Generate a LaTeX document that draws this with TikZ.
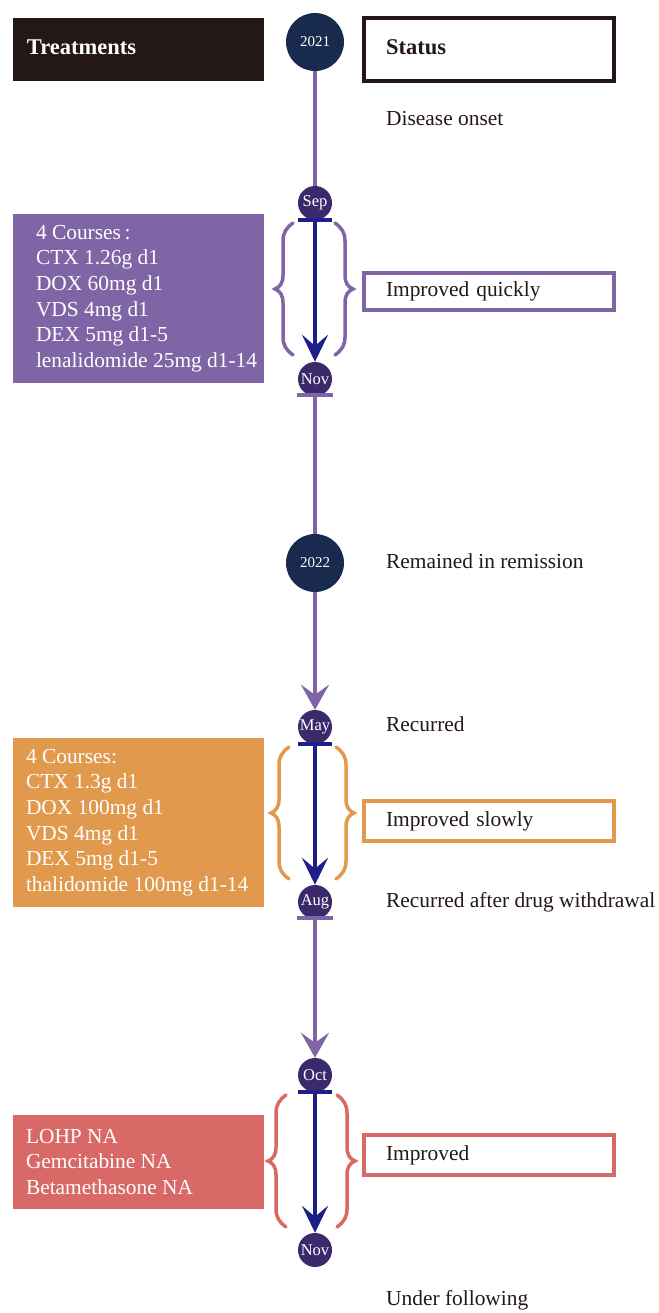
\documentclass[tikz,border=0pt]{standalone}
\usepackage{fontspec}
\setmainfont{Liberation Serif}
\usepackage{xcolor}
\usepackage{tikz}
\usetikzlibrary{arrows.meta,positioning,calc}

\definecolor{headdark}{HTML}{231815}
\definecolor{yearblue}{HTML}{182A4E}
\definecolor{monthpurple}{HTML}{3A2A6C}
\definecolor{arrownavy}{HTML}{1D2088}
\definecolor{tlpurple}{HTML}{7F65A5}
\definecolor{tlorange}{HTML}{E0994D}
\definecolor{tlred}{HTML}{D96966}

% braces on both sides of a course: colour, top, bottom, left x, right x
\newcommand{\sidebraces}[5]{%
  \draw[#1, line width=3.5pt, line cap=round]
    ({#4+10},#2) .. controls ({#4+3},{#2+5}) and (#4,{#2+10}) .. (#4,{#2+18})
    -- (#4,{(#2+#3)/2-14}) .. controls (#4,{(#2+#3)/2-6}) and ({#4-3},{(#2+#3)/2-2}) .. ({#4-8},{(#2+#3)/2})
    .. controls ({#4-3},{(#2+#3)/2+2}) and (#4,{(#2+#3)/2+6}) .. (#4,{(#2+#3)/2+14})
    -- (#4,{#3-18}) .. controls (#4,{#3-10}) and ({#4+3},{#3-5}) .. ({#4+10},#3);
  \draw[#1, line width=3.5pt, line cap=round]
    ({#5-10},#2) .. controls ({#5-3},{#2+5}) and (#5,{#2+10}) .. (#5,{#2+18})
    -- (#5,{(#2+#3)/2-14}) .. controls (#5,{(#2+#3)/2-6}) and ({#5+3},{(#2+#3)/2-2}) .. ({#5+8},{(#2+#3)/2})
    .. controls ({#5+3},{(#2+#3)/2+2}) and (#5,{(#2+#3)/2+6}) .. (#5,{(#2+#3)/2+14})
    -- (#5,{#3-18}) .. controls (#5,{#3-10}) and ({#5-3},{#3-5}) .. ({#5-10},#3);
}

\begin{document}
\begin{tikzpicture}[x=1pt, y=-1pt,
    yearnode/.style={circle, fill=yearblue, text=white, minimum size=58pt, inner sep=0pt, font=\fontsize{15}{15}\selectfont},
    monthnode/.style={circle, fill=monthpurple, text=white, minimum size=34pt, inner sep=0pt, font=\fontsize{16.5}{16.5}\selectfont},
    headbox/.style={rectangle, minimum height=63pt, align=left, text height=15pt, text depth=4pt, font=\fontsize{22.5}{27}\selectfont\bfseries},
    statbox/.style={draw=#1, line width=4pt, fill=white, minimum width=250pt, text width=206pt, inner xsep=22pt, align=left, text height=15pt, text depth=4pt, text=headdark, font=\fontsize{21.4}{25.6}\selectfont},
    txbox/.style={fill=#1, minimum width=251pt, inner sep=0pt},
    txlines/.style={anchor=west, inner sep=0pt, align=left, text=white, font=\fontsize{21.4}{25.6}\selectfont},
    status/.style={anchor=base west, inner sep=0pt, text=headdark, font=\fontsize{21.4}{25.6}\selectfont},
    tlline/.style={draw=tlpurple, line width=4pt},
    tlarrow/.style={tlline, -{Stealth[length=25pt, width=28pt, inset=10pt]}},
    navyarrow/.style={draw=arrownavy, line width=4pt, -{Stealth[length=27pt, width=26pt, inset=11pt]}},
  ]
  \useasboundingbox (0,0) rectangle (658,1313);

  % Headers
  \node[headbox, fill=headdark, text=white, minimum width=251pt, text width=223pt, inner xsep=14pt] (treat) at (138.5,49.5) {Treatments};
  \node[headbox, draw=headdark, line width=4pt, text=headdark, minimum width=250pt, text width=206pt, inner xsep=22pt, minimum height=62.5pt] (status) at (489,49.3) {Status};

  % Timeline points
  \node[yearnode] (y2021) at (315,42) {2021};
  \node[monthnode] (sep) at (315,203) {Sep};
  \node[monthnode] (nov1) at (315,379) {Nov};
  \node[yearnode] (y2022) at (315,563) {2022};
  \node[monthnode] (may) at (315,727) {May};
  \node[monthnode] (aug) at (315,902) {Aug};
  \node[monthnode] (oct) at (315,1075) {Oct};
  \node[monthnode] (nov2) at (315,1250) {Nov};

  % Timeline connectors
  \draw[tlline] (y2021.south) -- (sep.north);
  \draw[tlline] (nov1.south) -- (y2022.north);
  \draw[tlarrow] (y2022.south) -- (may.north);
  \draw[tlarrow] (aug.south) -- (oct.north);
  \draw[navyarrow] (sep.south) -- (nov1.north);
  \draw[navyarrow] (may.south) -- (aug.north);
  \draw[navyarrow] (oct.south) -- (nov2.north);

  % Start and end bars
  \draw[arrownavy, line width=4pt] ($(sep.south)+(-17,0)$) -- ($(sep.south)+(17,0)$);
  \draw[arrownavy, line width=4pt] ($(may.south)+(-17,0)$) -- ($(may.south)+(17,0)$);
  \draw[arrownavy, line width=4pt] ($(oct.south)+(-17,0)$) -- ($(oct.south)+(17,0)$);
  \draw[tlpurple, line width=4pt] ($(nov1.south)+(-18,-1)$) -- ($(nov1.south)+(18,-1)$);
  \draw[tlpurple, line width=4pt] ($(aug.south)+(-18,-1)$) -- ($(aug.south)+(18,-1)$);

  % Braces
  \sidebraces{tlpurple}{223}{355}{283}{345}
  \sidebraces{tlorange}{747}{879}{279}{346}
  \sidebraces{tlred}{1095}{1227}{276}{347}

  % Treatments
  \node[txbox=tlpurple, minimum height=169pt] (tx1) at (138.5,298.5) {};
  \node[txlines] (tx1t) at ($(tx1.west)+(23,0)$) {4 Courses\,:\\CTX 1.26g d1\\DOX 60mg d1\\VDS 4mg d1\\DEX 5mg d1-5\\lenalidomide 25mg d1-14};
  \node[txbox=tlorange, minimum height=169pt] (tx2) at (138.5,822.5) {};
  \node[txlines] (tx2t) at ($(tx2.west)+(13,0)$) {4 Courses:\\CTX 1.3g d1\\DOX 100mg d1\\VDS 4mg d1\\DEX 5mg d1-5\\thalidomide 100mg d1-14};
  \node[txbox=tlred, minimum height=94pt] (tx3) at (138.5,1162) {};
  \node[txlines] (tx3t) at ($(tx3.west)+(13,0)$) {LOHP NA\\Gemcitabine NA\\Betamethasone NA};

  % Status
  \node[status] (onset) at (386,126) {Disease onset};
  \node[statbox=tlpurple, minimum height=37pt] (st1) at (489,291.5) {Improved quickly};
  \node[status] (remission) at (386,568) {Remained in remission};
  \node[status] (recur) at (386,731) {Recurred};
  \node[statbox=tlorange, minimum height=40pt] (st2) at (489,821) {Improved slowly};
  \node[status] (withdraw) at (386,907) {Recurred after drug withdrawal};
  \node[statbox=tlred, minimum height=40pt] (st3) at (489,1155) {Improved};
  \node[status] (follow) at (386,1305) {Under following};
\end{tikzpicture}
\end{document}
